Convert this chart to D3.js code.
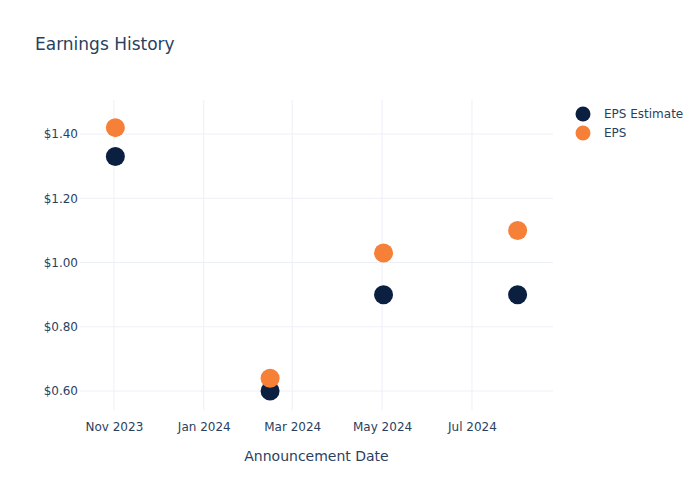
<!DOCTYPE html>
<html><head><meta charset="utf-8">
<script src="https://cdn.jsdelivr.net/npm/d3@7"></script>
<style>body{margin:0;background:#fff}svg{display:block;font-family:"DejaVu Sans",Verdana,sans-serif}</style>
</head><body>
<svg id="c" width="700" height="500"></svg>
<script>
const dates = ["2023-11-02","2024-02-15","2024-05-02","2024-08-01"];
const epsEstimate = [1.33, 0.60, 0.90, 0.90];
const eps = [1.42, 0.64, 1.03, 1.10];
const seriesNames = ["EPS Estimate", "EPS"];
const seriesColors = ["#0b1f41", "#f68038"];
const yTicks = [0.6, 0.8, 1.0, 1.2, 1.4];
const xTicks = ["2023-11-01","2024-01-01","2024-03-01","2024-05-01","2024-07-01"];

const parse = d3.utcParse("%Y-%m-%d");
const svg = d3.select("#c");
const L = 80, R = 553, T = 100, B = 410;
const x = d3.scaleUtc().domain([parse("2023-10-09"), parse("2024-08-25")]).range([L, R]);
const y = d3.scaleLinear().domain([0.541, 1.506]).range([B, T]);
const textColor = "#2a3f5f", gridColor = "#ebf0f8";
const ff = '"DejaVu Sans",Verdana,sans-serif';

// grid
svg.append("g").selectAll("line").data(xTicks).join("line")
  .attr("x1", d => x(parse(d))).attr("x2", d => x(parse(d)))
  .attr("y1", T).attr("y2", B).attr("stroke", gridColor).attr("stroke-width", 1);
svg.append("g").selectAll("line").data(yTicks).join("line")
  .attr("x1", L).attr("x2", R).attr("y1", d => y(d)).attr("y2", d => y(d))
  .attr("stroke", gridColor).attr("stroke-width", 1);

// axes
const xAxis = d3.axisBottom(x).tickValues(xTicks.map(parse))
  .tickFormat(d3.utcFormat("%b %Y")).tickSize(0).tickPadding(12);
const gx = svg.append("g").attr("transform", `translate(0,${B})`).call(xAxis);
gx.select(".domain").remove();
gx.selectAll("text").attr("fill", textColor).attr("font-size", 12).attr("font-family", ff);

const yAxis = d3.axisLeft(y).tickValues(yTicks).tickFormat(d => "$" + d3.format(".2f")(d)).tickSize(0).tickPadding(2);
const gy = svg.append("g").attr("transform", `translate(${L},0)`).call(yAxis);
gy.select(".domain").remove();
gy.selectAll("text").attr("fill", textColor).attr("font-size", 12).attr("font-family", ff);

// points
const series = [epsEstimate, eps];
series.forEach((vals, i) => {
  svg.append("g").selectAll("circle").data(vals).join("circle")
    .attr("cx", (d, j) => x(parse(dates[j])))
    .attr("cy", d => y(d))
    .attr("r", 9.5)
    .attr("fill", seriesColors[i]);
});

// title
svg.append("text").attr("x", 35).attr("y", 50).attr("fill", textColor)
  .attr("font-size", 17).attr("font-family", ff).text("Earnings History");
svg.append("text").attr("x", (L + R) / 2).attr("y", 461).attr("text-anchor", "middle")
  .attr("fill", textColor).attr("font-size", 14).attr("font-family", ff).text("Announcement Date");

// legend
const lg = svg.append("g");
seriesNames.forEach((n, i) => {
  lg.append("circle").attr("cx", 583).attr("cy", 114 + i * 19).attr("r", 7.5).attr("fill", seriesColors[i]);
  lg.append("text").attr("x", 604).attr("y", 118 + i * 19).attr("fill", textColor)
    .attr("font-size", 12).attr("font-family", ff).text(n);
});
</script>
</body></html>
